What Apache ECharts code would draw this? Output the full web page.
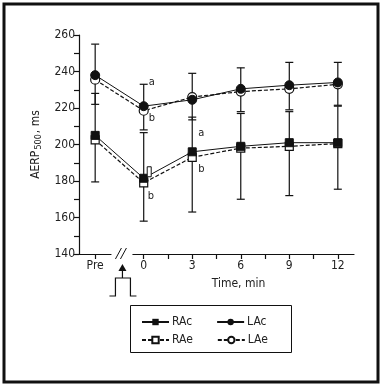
<!DOCTYPE html>
<html>
<head>
<meta charset="utf-8">
<script src="https://cdn.jsdelivr.net/npm/echarts@6/dist/echarts.min.js"></script>
<style>
  html, body { margin: 0; padding: 0; background: #fff; }
  #chart { width: 383px; height: 387px; }
</style>
</head>
<body>
<div id="chart"></div>
<script>
// time points (Pre drawn at -3 on the minute scale)
const timeVals = [-3, 0, 3, 6, 9, 12];
const timeLabels = ['Pre', '0', '3', '6', '9', '12'];

// AERP500 means, ms
const RAc = [205, 181.5, 196, 199, 201, 201];
const RAe = [202.5, 179, 193, 198, 199, 200.5];
const LAc = [238, 221, 224.5, 230.5, 232.5, 234];
const LAe = [235.5, 218.5, 226, 229, 230.5, 233];

// error bar ends
const LAhigh = [255, 233, 239, 242, 245, 245];
const LAlow = [222, 208, 213.5, 218, 219, 221.5];
const RAhigh = [228, 206.5, 215, 217, 218, 221];
const RAlow = [179.5, 158, 163, 170, 172, 175.5];

// significance marks: [time, value, text]
const marks = [
  [0, 233, 'a'],
  [0, 221, 'b'],
  [0, 181.5, 'b'],
  [3, 196, 'a'],
  [3, 193, 'b'],
];

const FONT = '"DejaVu Sans Condensed", "Liberation Sans Narrow", "Liberation Sans", sans-serif';

const myChart = echarts.init(document.getElementById('chart'));

function pairs(vals) {
  return vals.map((v, i) => [timeVals[i], v]);
}

const errData = [];
timeVals.forEach((t, i) => {
  errData.push([t, LAlow[i], LAhigh[i]]);
  errData.push([t, RAlow[i], RAhigh[i]]);
});

function renderErr(params, api) {
  const lo = api.coord([api.value(0), api.value(1)]);
  const hi = api.coord([api.value(0), api.value(2)]);
  const hw = 4;
  const style = { stroke: '#111', lineWidth: 1.2 };
  return {
    type: 'group',
    children: [
      { type: 'line', shape: { x1: lo[0], y1: lo[1], x2: hi[0], y2: hi[1] }, style },
      { type: 'line', shape: { x1: lo[0] - hw, y1: lo[1], x2: lo[0] + hw, y2: lo[1] }, style },
      { type: 'line', shape: { x1: hi[0] - hw, y1: hi[1], x2: hi[0] + hw, y2: hi[1] }, style },
    ],
  };
}

const solid = { color: '#111', width: 1 };
const dashed = { color: '#111', width: 1.2, type: [4, 2] };
const txt = { color: '#222', fontFamily: FONT, fontSize: 12 };

const option = {
  animation: false,
  textStyle: { fontFamily: FONT },
  grid: { left: 79, right: 29, top: 35, bottom: 133 },
  xAxis: {
    type: 'value',
    min: -4,
    max: 13,
    splitLine: { show: false },
    axisLine: { onZero: false, lineStyle: { color: '#111', width: 1.2 } },
    axisTick: {
      customValues: [-3, 0, 1.5, 3, 4.5, 6, 7.5, 9, 10.5, 12],
      length: 5,
      lineStyle: { color: '#111', width: 1.2 },
    },
    axisLabel: {
      customValues: timeVals,
      formatter: (v) => timeLabels[timeVals.indexOf(v)],
      ...txt,
      margin: 6,
    },
    name: 'Time, min',
    nameLocation: 'middle',
    nameGap: 24,
    nameTextStyle: { ...txt, padding: [0, 0, 0, 44] },
  },
  yAxis: {
    type: 'value',
    min: 140,
    max: 260,
    interval: 10,
    splitLine: { show: false },
    axisLine: { show: true, onZero: false, lineStyle: { color: '#111', width: 1.2 } },
    axisTick: { show: true, length: 5, lineStyle: { color: '#111', width: 1.2 } },
    axisLabel: {
      formatter: (v) => (v % 20 === 0 ? String(v) : ''),
      ...txt,
      margin: 4,
    },
    name: '{a|AERP}{s|500}{a|, ms}',
    nameLocation: 'middle',
    nameGap: 34,
    nameTextStyle: {
      rich: {
        a: { ...txt },
        s: { ...txt, fontSize: 9, verticalAlign: 'bottom', padding: [6, 1, 0, 1] },
      },
    },
  },
  legend: [
    {
      data: ['RAc', 'LAc'],
      left: 141,
      top: 316,
      padding: 0,
      itemGap: 24,
      itemWidth: 27,
      itemHeight: 8,
      textStyle: { ...txt, padding: [0, 0, 0, -2] },
    },
    {
      data: ['RAe', 'LAe'],
      left: 141,
      top: 334,
      padding: 0,
      itemGap: 24,
      itemWidth: 27,
      itemHeight: 8,
      textStyle: { ...txt, padding: [0, 0, 0, -2] },
    },
  ],
  series: [
    {
      type: 'custom',
      name: 'err',
      renderItem: renderErr,
      data: errData,
      encode: { x: 0, y: [1, 2] },
      z: 1,
    },
    {
      type: 'line', name: 'RAe', data: pairs(RAe),
      symbol: 'rect', symbolSize: 8,
      lineStyle: dashed,
      itemStyle: { color: '#fff', borderColor: '#111', borderWidth: 1.2 },
      z: 3,
    },
    {
      type: 'line', name: 'RAc', data: pairs(RAc),
      symbol: 'rect', symbolSize: 8,
      lineStyle: solid,
      itemStyle: { color: '#111', borderColor: '#111' },
      z: 4,
    },
    {
      type: 'line', name: 'LAe', data: pairs(LAe),
      symbol: 'circle', symbolSize: 9,
      lineStyle: dashed,
      itemStyle: { color: '#fff', borderColor: '#111', borderWidth: 1.2 },
      z: 3,
    },
    {
      type: 'line', name: 'LAc', data: pairs(LAc),
      symbol: 'circle', symbolSize: 9,
      lineStyle: solid,
      itemStyle: { color: '#111', borderColor: '#111' },
      z: 4,
    },
  ],
};

myChart.setOption(option);

// decorations: frame, legend box, axis break, stimulus pulse, marks
const axisY = myChart.convertToPixel({ yAxisIndex: 0 }, 140);
const xb = myChart.convertToPixel({ xAxisIndex: 0 }, -1.5) + 1;
const graphics = [
  { type: 'rect', shape: { x: 4, y: 4, width: 374, height: 378 }, style: { fill: 'none', stroke: '#111', lineWidth: 3 }, z: 100 },
  { type: 'rect', shape: { x: 130.5, y: 305.5, width: 161, height: 47 }, style: { fill: 'none', stroke: '#111', lineWidth: 1 }, z: 100 },
  { type: 'rect', shape: { x: xb - 9, y: axisY - 3, width: 21, height: 6 }, style: { fill: '#fff' }, z: 100 },
  { type: 'line', shape: { x1: xb - 5, y1: axisY + 5, x2: xb + 1, y2: axisY - 6 }, style: { stroke: '#111', lineWidth: 1 }, z: 101 },
  { type: 'line', shape: { x1: xb, y1: axisY + 5, x2: xb + 6, y2: axisY - 6 }, style: { stroke: '#111', lineWidth: 1 }, z: 101 },
  { type: 'polygon', shape: { points: [[xb + 2, axisY + 10], [xb - 2, axisY + 17], [xb + 6, axisY + 17]] }, style: { fill: '#111' }, z: 101 },
  { type: 'line', shape: { x1: xb + 2, y1: axisY + 16, x2: xb + 2, y2: axisY + 24 }, style: { stroke: '#111', lineWidth: 1.2 }, z: 101 },
  {
    type: 'polyline',
    shape: { points: [[xb - 11, axisY + 42], [xb - 5, axisY + 42], [xb - 5, axisY + 24], [xb + 10, axisY + 24], [xb + 10, axisY + 42], [xb + 16, axisY + 42]] },
    style: { stroke: '#111', lineWidth: 1.2, fill: 'none' },
    z: 101,
  },
];

const markOffsets = [[5, -8], [5, 6], [4, 12], [6, -24], [6, 6]];
marks.forEach((m, i) => {
  const p = myChart.convertToPixel({ gridIndex: 0 }, [m[0], m[1]]);
  graphics.push({
    type: 'text',
    x: p[0] + markOffsets[i][0],
    y: p[1] + markOffsets[i][1],
    style: { text: m[2], fill: '#222', font: '11px ' + FONT },
    z: 101,
  });
});
// small boxed mark beside the RA point at 0 min
const pb = myChart.convertToPixel({ gridIndex: 0 }, [0, 181.5]);
graphics.push({ type: 'rect', shape: { x: pb[0] + 3.5, y: pb[1] - 11.5, width: 4, height: 10 }, style: { fill: '#fff', stroke: '#111', lineWidth: 1 }, z: 101 });

myChart.setOption({ graphic: graphics });
</script>
</body>
</html>
